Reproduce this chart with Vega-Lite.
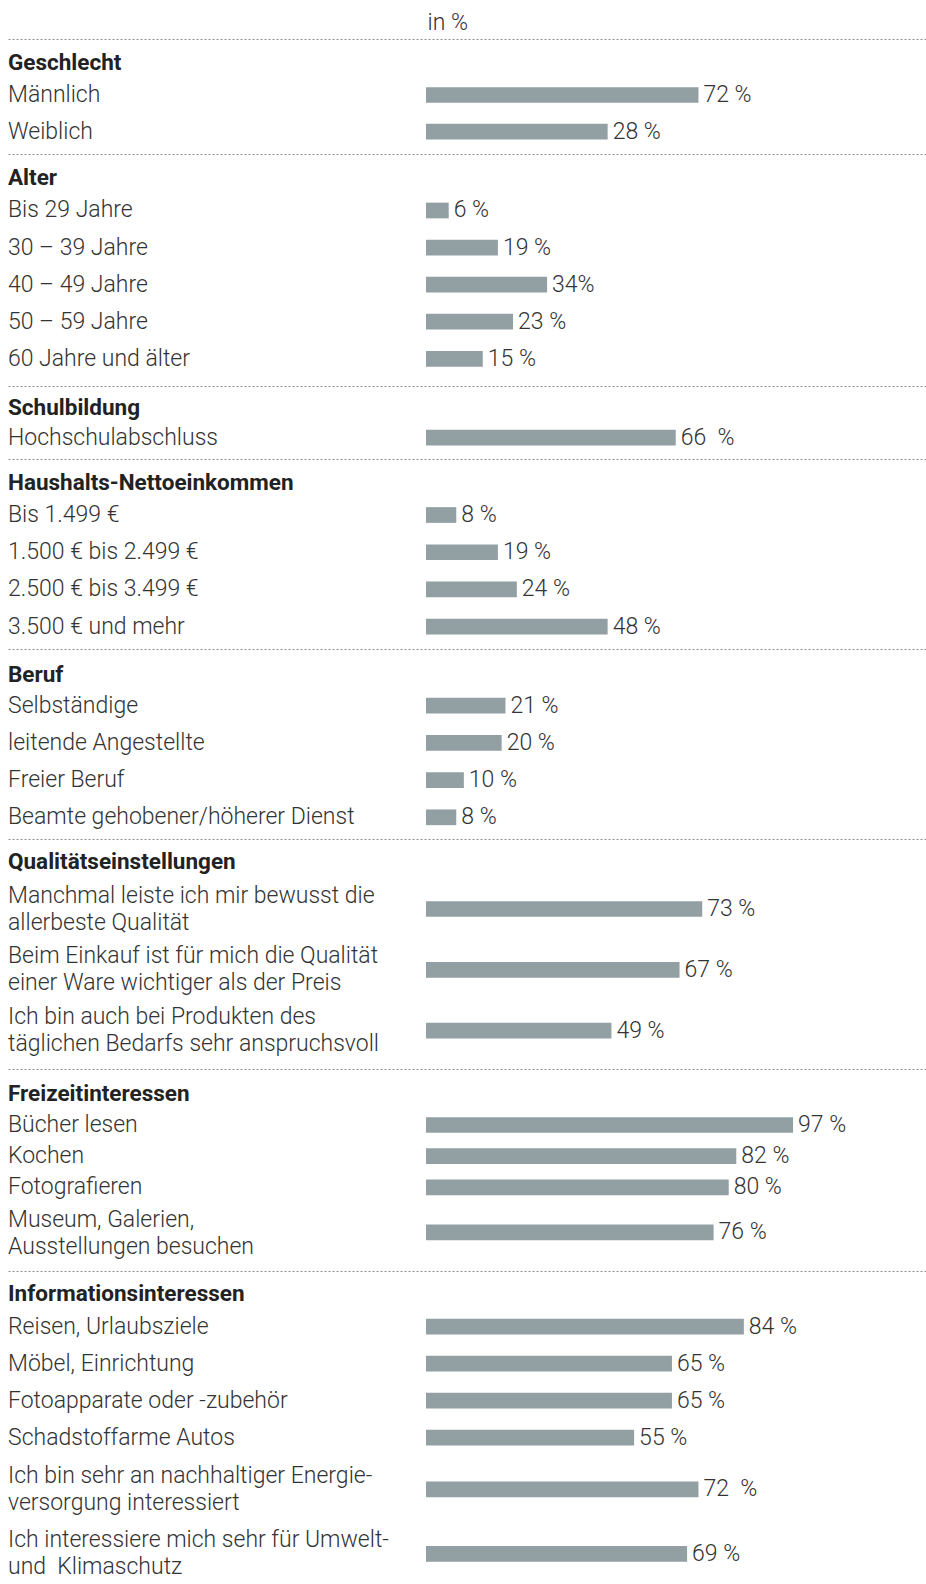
{
  "$schema": "https://vega.github.io/schema/vega-lite/v6.json",
  "autosize": {"type": "pad"},
  "padding": {"left": 8, "top": 11, "right": 0, "bottom": 0},
  "background": "white",
  "spacing": 0,
  "bounds": "flush",
  "config": {
    "view": {"stroke": null},
    "axis": {"labels": false, "ticks": false, "grid": false, "domain": false},
    "text": {"font": "Roboto", "fontSize": 23, "fontWeight": 300, "color": "#333333"}
  },
  "datasets": {
    "rows": [
      {"section": "Geschlecht", "item": "Männlich", "bar": 72, "label": "72 %"},
      {"section": "Geschlecht", "item": "Weiblich", "bar": 48, "label": "28 %"},
      {"section": "Alter", "item": "Bis 29 Jahre", "bar": 6, "label": "6 %"},
      {"section": "Alter", "item": "30 – 39 Jahre", "bar": 19, "label": "19 %"},
      {"section": "Alter", "item": "40 – 49 Jahre", "bar": 32, "label": "34%"},
      {"section": "Alter", "item": "50 – 59 Jahre", "bar": 23, "label": "23 %"},
      {"section": "Alter", "item": "60 Jahre und älter", "bar": 15, "label": "15 %"},
      {"section": "Schulbildung", "item": "Hochschulabschluss", "bar": 66, "label": "66\u00a0 %"},
      {"section": "Haushalts-Nettoeinkommen", "item": "Bis 1.499 €", "bar": 8, "label": "8 %"},
      {"section": "Haushalts-Nettoeinkommen", "item": "1.500 € bis 2.499 €", "bar": 19, "label": "19 %"},
      {"section": "Haushalts-Nettoeinkommen", "item": "2.500 € bis 3.499 €", "bar": 24, "label": "24 %"},
      {"section": "Haushalts-Nettoeinkommen", "item": "3.500 € und mehr", "bar": 48, "label": "48 %"},
      {"section": "Beruf", "item": "Selbständige", "bar": 21, "label": "21 %"},
      {"section": "Beruf", "item": "leitende Angestellte", "bar": 20, "label": "20 %"},
      {"section": "Beruf", "item": "Freier Beruf", "bar": 10, "label": "10 %"},
      {"section": "Beruf", "item": "Beamte gehobener/höherer Dienst", "bar": 8, "label": "8 %"},
      {"section": "Qualitätseinstellungen", "item": "Manchmal leiste ich mir bewusst die\nallerbeste Qualität", "bar": 73, "label": "73 %"},
      {"section": "Qualitätseinstellungen", "item": "Beim Einkauf ist für mich die Qualität\neiner Ware wichtiger als der Preis", "bar": 67, "label": "67 %"},
      {"section": "Qualitätseinstellungen", "item": "Ich bin auch bei Produkten des\ntäglichen Bedarfs sehr anspruchsvoll", "bar": 49, "label": "49 %"},
      {"section": "Freizeitinteressen", "item": "Bücher lesen", "bar": 97, "label": "97 %"},
      {"section": "Freizeitinteressen", "item": "Kochen", "bar": 82, "label": "82 %"},
      {"section": "Freizeitinteressen", "item": "Fotografieren", "bar": 80, "label": "80 %"},
      {"section": "Freizeitinteressen", "item": "Museum, Galerien,\nAusstellungen besuchen", "bar": 76, "label": "76 %"},
      {"section": "Informationsinteressen", "item": "Reisen, Urlaubsziele", "bar": 84, "label": "84 %"},
      {"section": "Informationsinteressen", "item": "Möbel, Einrichtung", "bar": 65, "label": "65 %"},
      {"section": "Informationsinteressen", "item": "Fotoapparate oder -zubehör", "bar": 65, "label": "65 %"},
      {"section": "Informationsinteressen", "item": "Schadstoffarme Autos", "bar": 55, "label": "55 %"},
      {"section": "Informationsinteressen", "item": "Ich bin sehr an nachhaltiger Energie-\nversorgung interessiert", "bar": 72, "label": "72\u00a0 %"},
      {"section": "Informationsinteressen", "item": "Ich interessiere mich sehr für Umwelt-\nund\u00a0 Klimaschutz", "bar": 69, "label": "69 %"}
    ]
  },
  "vconcat": [
    {
      "height": 114.5, "width": 918,
      "data": {"name": "rows"},
      "transform": [{"filter": {"field": "section", "equal": "Geschlecht"}}],
      "encoding": {"y": {"field": "item", "type": "nominal", "sort": null, "axis": null, "scale": {"paddingInner": 0, "paddingOuter": 0.56, "align": 0.916, "round": false}}},
      "layer": [
        {"mark": {"type": "bar", "height": 15.7, "color": "#929fa3"},
         "encoding": {"x": {"field": "bar", "type": "quantitative", "scale": {"domain": [-110.465, 132.135], "nice": false, "zero": false}, "axis": {"orient": "top", "domain": true, "domainDash": [2, 2], "domainColor": "#8c8c8c", "domainWidth": 1, "title": "in %", "titleX": 419, "titleY": -17, "titleAlign": "left", "titleBaseline": "middle", "titleFont": "Roboto", "titleFontSize": 23, "titleFontWeight": 300, "titleColor": "#333333", "titleAngle": 0}}}},
        {"mark": {"type": "text", "align": "left", "baseline": "middle", "dx": 5},
         "encoding": {"x": {"field": "bar", "type": "quantitative"}, "text": {"field": "label"}}},
        {"mark": {"type": "text", "align": "left", "baseline": "middle", "dx": 0, "lineBreak": "\n", "lineHeight": 27},
         "encoding": {"x": {"datum": -110.465, "type": "quantitative"}, "text": {"field": "item"}}},
        {"transform": [{"window": [{"op": "row_number", "as": "rn"}]}, {"filter": "datum.rn === 1"}],
         "mark": {"type": "text", "align": "left", "baseline": "middle", "dx": 0, "dy": -32, "fontSize": 22.5, "fontWeight": "bold", "color": "#222222"},
         "encoding": {"x": {"datum": -110.465, "type": "quantitative"}, "text": {"field": "section"}}}
      ]
    },
    {
      "height": 231.5, "width": 918,
      "data": {"name": "rows"},
      "transform": [{"filter": {"field": "section", "equal": "Alter"}}],
      "encoding": {"y": {"field": "item", "type": "nominal", "sort": null, "axis": null, "scale": {"paddingInner": 0, "paddingOuter": 0.622, "align": 0.823, "round": false}}},
      "layer": [
        {"mark": {"type": "bar", "height": 15.7, "color": "#929fa3"},
         "encoding": {"x": {"field": "bar", "type": "quantitative", "scale": {"domain": [-110.465, 132.135], "nice": false, "zero": false}, "axis": {"orient": "top", "domain": true, "domainDash": [2, 2], "domainColor": "#8c8c8c", "domainWidth": 1, "title": null}}}},
        {"mark": {"type": "text", "align": "left", "baseline": "middle", "dx": 5},
         "encoding": {"x": {"field": "bar", "type": "quantitative"}, "text": {"field": "label"}}},
        {"mark": {"type": "text", "align": "left", "baseline": "middle", "dx": 0, "lineBreak": "\n", "lineHeight": 27},
         "encoding": {"x": {"datum": -110.465, "type": "quantitative"}, "text": {"field": "item"}}},
        {"transform": [{"window": [{"op": "row_number", "as": "rn"}]}, {"filter": "datum.rn === 1"}],
         "mark": {"type": "text", "align": "left", "baseline": "middle", "dx": 0, "dy": -32, "fontSize": 22.5, "fontWeight": "bold", "color": "#222222"},
         "encoding": {"x": {"datum": -110.465, "type": "quantitative"}, "text": {"field": "section"}}}
      ]
    },
    {
      "height": 72.3, "width": 918,
      "data": {"name": "rows"},
      "transform": [{"filter": {"field": "section", "equal": "Schulbildung"}}],
      "encoding": {"y": {"field": "item", "type": "nominal", "sort": null, "axis": null, "scale": {"paddingInner": 0, "paddingOuter": 0.485, "align": 0.937, "round": false}}},
      "layer": [
        {"mark": {"type": "bar", "height": 15.7, "color": "#929fa3"},
         "encoding": {"x": {"field": "bar", "type": "quantitative", "scale": {"domain": [-110.465, 132.135], "nice": false, "zero": false}, "axis": {"orient": "top", "domain": true, "domainDash": [2, 2], "domainColor": "#8c8c8c", "domainWidth": 1, "title": null}}}},
        {"mark": {"type": "text", "align": "left", "baseline": "middle", "dx": 5},
         "encoding": {"x": {"field": "bar", "type": "quantitative"}, "text": {"field": "label"}}},
        {"mark": {"type": "text", "align": "left", "baseline": "middle", "dx": 0, "lineBreak": "\n", "lineHeight": 27},
         "encoding": {"x": {"datum": -110.465, "type": "quantitative"}, "text": {"field": "item"}}},
        {"transform": [{"window": [{"op": "row_number", "as": "rn"}]}, {"filter": "datum.rn === 1"}],
         "mark": {"type": "text", "align": "left", "baseline": "middle", "dx": 0, "dy": -30, "fontSize": 22.5, "fontWeight": "bold", "color": "#222222"},
         "encoding": {"x": {"datum": -110.465, "type": "quantitative"}, "text": {"field": "section"}}}
      ]
    },
    {
      "height": 189.4, "width": 918,
      "data": {"name": "rows"},
      "transform": [{"filter": {"field": "section", "equal": "Haushalts-Nettoeinkommen"}}],
      "encoding": {"y": {"field": "item", "type": "nominal", "sort": null, "axis": null, "scale": {"paddingInner": 0, "paddingOuter": 0.5434, "align": 0.924, "round": false}}},
      "layer": [
        {"mark": {"type": "bar", "height": 15.7, "color": "#929fa3"},
         "encoding": {"x": {"field": "bar", "type": "quantitative", "scale": {"domain": [-110.465, 132.135], "nice": false, "zero": false}, "axis": {"orient": "top", "domain": true, "domainDash": [2, 2], "domainColor": "#8c8c8c", "domainWidth": 1, "title": null}}}},
        {"mark": {"type": "text", "align": "left", "baseline": "middle", "dx": 5},
         "encoding": {"x": {"field": "bar", "type": "quantitative"}, "text": {"field": "label"}}},
        {"mark": {"type": "text", "align": "left", "baseline": "middle", "dx": 0, "lineBreak": "\n", "lineHeight": 27},
         "encoding": {"x": {"datum": -110.465, "type": "quantitative"}, "text": {"field": "item"}}},
        {"transform": [{"window": [{"op": "row_number", "as": "rn"}]}, {"filter": "datum.rn === 1"}],
         "mark": {"type": "text", "align": "left", "baseline": "middle", "dx": 0, "dy": -31.6, "fontSize": 22.5, "fontWeight": "bold", "color": "#222222"},
         "encoding": {"x": {"datum": -110.465, "type": "quantitative"}, "text": {"field": "section"}}}
      ]
    },
    {
      "height": 190, "width": 918,
      "data": {"name": "rows"},
      "transform": [{"filter": {"field": "section", "equal": "Beruf"}}],
      "encoding": {"y": {"field": "item", "type": "nominal", "sort": null, "axis": null, "scale": {"paddingInner": 0, "paddingOuter": 0.5514, "align": 0.925, "round": false}}},
      "layer": [
        {"mark": {"type": "bar", "height": 15.7, "color": "#929fa3"},
         "encoding": {"x": {"field": "bar", "type": "quantitative", "scale": {"domain": [-110.465, 132.135], "nice": false, "zero": false}, "axis": {"orient": "top", "domain": true, "domainDash": [2, 2], "domainColor": "#8c8c8c", "domainWidth": 1, "title": null}}}},
        {"mark": {"type": "text", "align": "left", "baseline": "middle", "dx": 5},
         "encoding": {"x": {"field": "bar", "type": "quantitative"}, "text": {"field": "label"}}},
        {"mark": {"type": "text", "align": "left", "baseline": "middle", "dx": 0, "lineBreak": "\n", "lineHeight": 27},
         "encoding": {"x": {"datum": -110.465, "type": "quantitative"}, "text": {"field": "item"}}},
        {"transform": [{"window": [{"op": "row_number", "as": "rn"}]}, {"filter": "datum.rn === 1"}],
         "mark": {"type": "text", "align": "left", "baseline": "middle", "dx": 0, "dy": -30.6, "fontSize": 22.5, "fontWeight": "bold", "color": "#222222"},
         "encoding": {"x": {"datum": -110.465, "type": "quantitative"}, "text": {"field": "section"}}}
      ]
    },
    {
      "height": 230, "width": 918,
      "data": {"name": "rows"},
      "transform": [{"filter": {"field": "section", "equal": "Qualitätseinstellungen"}}],
      "encoding": {"y": {"field": "item", "type": "nominal", "sort": null, "axis": null, "scale": {"paddingInner": 0, "paddingOuter": 0.3914, "align": 0.832, "round": false}}},
      "layer": [
        {"mark": {"type": "bar", "height": 15.7, "color": "#929fa3"},
         "encoding": {"x": {"field": "bar", "type": "quantitative", "scale": {"domain": [-110.465, 132.135], "nice": false, "zero": false}, "axis": {"orient": "top", "domain": true, "domainDash": [2, 2], "domainColor": "#8c8c8c", "domainWidth": 1, "title": null}}}},
        {"mark": {"type": "text", "align": "left", "baseline": "middle", "dx": 5},
         "encoding": {"x": {"field": "bar", "type": "quantitative"}, "text": {"field": "label"}}},
        {"mark": {"type": "text", "align": "left", "baseline": "middle", "dx": 0, "dy": -13.5, "lineBreak": "\n", "lineHeight": 27},
         "encoding": {"x": {"datum": -110.465, "type": "quantitative"}, "text": {"field": "item"}}},
        {"transform": [{"window": [{"op": "row_number", "as": "rn"}]}, {"filter": "datum.rn === 1"}],
         "mark": {"type": "text", "align": "left", "baseline": "middle", "dx": 0, "dy": -46.7, "fontSize": 22.5, "fontWeight": "bold", "color": "#222222"},
         "encoding": {"x": {"datum": -110.465, "type": "quantitative"}, "text": {"field": "section"}}}
      ]
    },
    {
      "height": 134, "width": 918,
      "data": {"name": "rows"},
      "transform": [{"filter": {"field": "item", "oneOf": ["Bücher lesen", "Kochen", "Fotografieren"]}}],
      "encoding": {"y": {"field": "item", "type": "nominal", "sort": null, "axis": null, "scale": {"paddingInner": 0, "paddingOuter": 0.651, "align": 0.997, "round": false}}},
      "layer": [
        {"mark": {"type": "bar", "height": 15.7, "color": "#929fa3"},
         "encoding": {"x": {"field": "bar", "type": "quantitative", "scale": {"domain": [-110.465, 132.135], "nice": false, "zero": false}, "axis": {"orient": "top", "domain": true, "domainDash": [2, 2], "domainColor": "#8c8c8c", "domainWidth": 1, "title": null}}}},
        {"mark": {"type": "text", "align": "left", "baseline": "middle", "dx": 5},
         "encoding": {"x": {"field": "bar", "type": "quantitative"}, "text": {"field": "label"}}},
        {"mark": {"type": "text", "align": "left", "baseline": "middle", "dx": 0, "lineBreak": "\n", "lineHeight": 27},
         "encoding": {"x": {"datum": -110.465, "type": "quantitative"}, "text": {"field": "item"}}},
        {"transform": [{"window": [{"op": "row_number", "as": "rn"}]}, {"filter": "datum.rn === 1"}],
         "mark": {"type": "text", "align": "left", "baseline": "middle", "dx": 0, "dy": -31, "fontSize": 22.5, "fontWeight": "bold", "color": "#222222"},
         "encoding": {"x": {"datum": -110.465, "type": "quantitative"}, "text": {"field": "section"}}}
      ]
    },
    {
      "height": 67.6, "width": 918,
      "data": {"name": "rows"},
      "transform": [{"filter": {"field": "item", "oneOf": ["Museum, Galerien,\nAusstellungen besuchen"]}}],
      "encoding": {"y": {"field": "item", "type": "nominal", "sort": null, "axis": null, "scale": {"paddingInner": 0, "paddingOuter": 0.0768, "align": 0, "round": false}}},
      "layer": [
        {"mark": {"type": "bar", "height": 15.7, "color": "#929fa3"},
         "encoding": {"x": {"field": "bar", "type": "quantitative", "scale": {"domain": [-110.465, 132.135], "nice": false, "zero": false}, "axis": null}}},
        {"mark": {"type": "text", "align": "left", "baseline": "middle", "dx": 5},
         "encoding": {"x": {"field": "bar", "type": "quantitative"}, "text": {"field": "label"}}},
        {"mark": {"type": "text", "align": "left", "baseline": "middle", "dx": 0, "dy": -12, "lineBreak": "\n", "lineHeight": 27},
         "encoding": {"x": {"datum": -110.465, "type": "quantitative"}, "text": {"field": "item"}}}
      ]
    },
    {
      "height": 185.2, "width": 918,
      "data": {"name": "rows"},
      "transform": [{"filter": {"field": "item", "oneOf": ["Reisen, Urlaubsziele", "Möbel, Einrichtung", "Fotoapparate oder -zubehör", "Schadstoffarme Autos"]}}],
      "encoding": {"y": {"field": "item", "type": "nominal", "sort": null, "axis": null, "scale": {"paddingInner": 0, "paddingOuter": 0.5027, "align": 1, "round": false}}},
      "layer": [
        {"mark": {"type": "bar", "height": 15.7, "color": "#929fa3"},
         "encoding": {"x": {"field": "bar", "type": "quantitative", "scale": {"domain": [-110.465, 132.135], "nice": false, "zero": false}, "axis": {"orient": "top", "domain": true, "domainDash": [2, 2], "domainColor": "#8c8c8c", "domainWidth": 1, "title": null}}}},
        {"mark": {"type": "text", "align": "left", "baseline": "middle", "dx": 5},
         "encoding": {"x": {"field": "bar", "type": "quantitative"}, "text": {"field": "label"}}},
        {"mark": {"type": "text", "align": "left", "baseline": "middle", "dx": 0, "lineBreak": "\n", "lineHeight": 27},
         "encoding": {"x": {"datum": -110.465, "type": "quantitative"}, "text": {"field": "item"}}},
        {"transform": [{"window": [{"op": "row_number", "as": "rn"}]}, {"filter": "datum.rn === 1"}],
         "mark": {"type": "text", "align": "left", "baseline": "middle", "dx": 0, "dy": -32.3, "fontSize": 22.5, "fontWeight": "bold", "color": "#222222"},
         "encoding": {"x": {"datum": -110.465, "type": "quantitative"}, "text": {"field": "section"}}}
      ]
    },
    {
      "height": 130.5, "width": 918,
      "data": {"name": "rows"},
      "transform": [{"filter": {"field": "item", "oneOf": ["Ich bin sehr an nachhaltiger Energie-\nversorgung interessiert", "Ich interessiere mich sehr für Umwelt-\nund\u00a0 Klimaschutz"]}}],
      "encoding": {"y": {"field": "item", "type": "nominal", "sort": null, "axis": null, "scale": {"paddingInner": 0, "paddingOuter": 0.01006, "align": 0, "round": false}}},
      "layer": [
        {"mark": {"type": "bar", "height": 15.7, "color": "#929fa3"},
         "encoding": {"x": {"field": "bar", "type": "quantitative", "scale": {"domain": [-110.465, 132.135], "nice": false, "zero": false}, "axis": null}}},
        {"mark": {"type": "text", "align": "left", "baseline": "middle", "dx": 5},
         "encoding": {"x": {"field": "bar", "type": "quantitative"}, "text": {"field": "label"}}},
        {"mark": {"type": "text", "align": "left", "baseline": "middle", "dx": 0, "dy": -13.5, "lineBreak": "\n", "lineHeight": 27},
         "encoding": {"x": {"datum": -110.465, "type": "quantitative"}, "text": {"field": "item"}}}
      ]
    }
  ]
}
